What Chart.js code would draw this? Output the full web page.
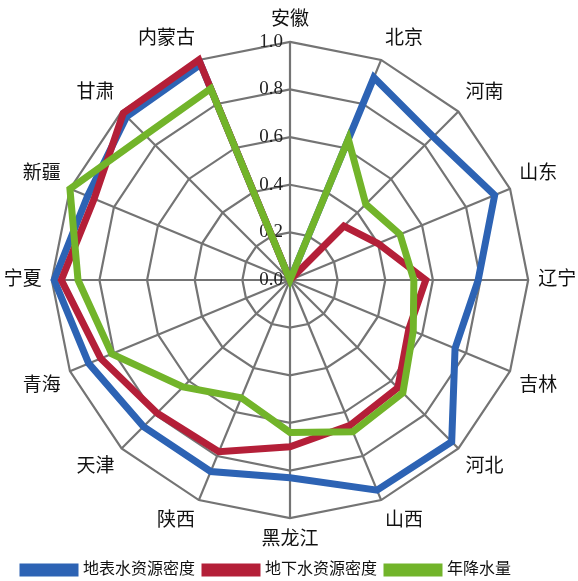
<!DOCTYPE html>
<html>
<head>
<meta charset="utf-8">
<script src="https://cdn.jsdelivr.net/npm/chart.js@4.4.1/dist/chart.umd.min.js"></script>
<style>
  html, body { margin: 0; padding: 0; background: #fff; }
  #wrap { width: 578px; height: 581px; }
</style>
</head>
<body>
<div id="wrap"><canvas id="chart" width="578" height="581"></canvas></div>
<script>
const provinces = ["安徽", "北京", "河南", "山东", "辽宁", "吉林", "河北", "山西",
  "黑龙江", "陕西", "天津", "青海", "宁夏", "新疆", "甘肃", "内蒙古"];

const surfaceWater = [0, 0.92, 0.85, 0.93, 0.79, 0.75, 0.96, 0.955,
  0.83, 0.87, 0.87, 0.915, 0.99, 0.92, 0.97, 0.98];
const groundWater = [0, 0, 0.32, 0.40, 0.57, 0.54, 0.64, 0.66,
  0.70, 0.78, 0.79, 0.86, 0.96, 0.89, 0.99, 1.0];
const rainfall = [0, 0.64, 0.45, 0.50, 0.52, 0.56, 0.67, 0.69,
  0.64, 0.535, 0.635, 0.81, 0.89, 1.0, 0.86, 0.87];

const tickValues = [0, 0.2, 0.4, 0.6, 0.8, 1.0];

const cjkFont = "'Liberation Serif', 'Noto Sans CJK SC', serif";
const gridGray = "#747474";

// tick numbers sit just left of the top spoke, under the data lines
const sideTicks = {
  id: "sideTicks",
  beforeDatasetsDraw(chart) {
    const r = chart.scales.r;
    const ctx = chart.ctx;
    ctx.save();
    ctx.font = "19px 'Liberation Serif', serif";
    ctx.fillStyle = "#222";
    ctx.textAlign = "right";
    ctx.textBaseline = "middle";
    tickValues.forEach(v => {
      const d = r.getDistanceFromCenterForValue(v);
      ctx.fillText(v.toFixed(1), r.xCenter - 7, r.yCenter - d);
    });
    ctx.restore();
  }
};

// push the legend row a little to the right
const legendShift = {
  id: "legendShift",
  afterLayout(chart) {
    chart.legend.left += 11;
  }
};

const line = (label, data, color, order) => ({
  label: label,
  data: data,
  borderColor: color,
  backgroundColor: color,
  borderWidth: 7,
  borderJoinStyle: "miter",
  pointRadius: 0,
  pointHoverRadius: 0,
  fill: false,
  order: order
});

new Chart(document.getElementById("chart"), {
  type: "radar",
  data: {
    labels: provinces,
    datasets: [
      line("地表水资源密度", surfaceWater, "#2d63b4", 3),
      line("地下水资源密度", groundWater, "#b41f38", 2),
      line("年降水量", rainfall, "#72b42a", 1)
    ]
  },
  options: {
    responsive: false,
    devicePixelRatio: 1,
    animation: false,
    layout: { padding: { left: 2, right: 0, top: 9, bottom: -7 } },
    scales: {
      r: {
        min: 0,
        max: 1,
        beginAtZero: true,
        ticks: { display: false, stepSize: 0.2 },
        grid: { color: gridGray, lineWidth: 2.2, circular: false },
        angleLines: { color: gridGray, lineWidth: 2.2 },
        pointLabels: {
          font: { family: cjkFont, size: 19 },
          color: "#111",
          padding: 10
        }
      }
    },
    plugins: {
      tooltip: { enabled: false },
      legend: {
        position: "bottom",
        align: "start",
        labels: {
          boxWidth: 52,
          boxHeight: 6,
          padding: 10,
          color: "#111",
          font: { family: cjkFont, size: 16 },
          sort: (a, b) => a.datasetIndex - b.datasetIndex
        }
      }
    }
  },
  plugins: [sideTicks, legendShift]
});
</script>
</body>
</html>
